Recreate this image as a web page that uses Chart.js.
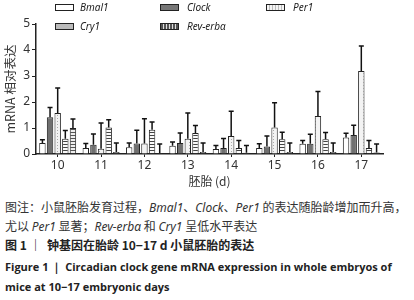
<!DOCTYPE html>
<html><head><meta charset="utf-8">
<script src="https://cdn.jsdelivr.net/npm/chart.js@4/dist/chart.umd.min.js"></script>
<style>
html,body{margin:0;padding:0;background:#fff;}
#wrap{position:relative;width:414px;height:300px;overflow:hidden;font-family:"Noto Sans","Noto Sans CJK SC",sans-serif;}
#c{position:absolute;left:0;top:0;}
.lg{position:absolute;font-style:italic;font-size:10px;color:#222;line-height:12px;white-space:nowrap;}
.sw{position:absolute;width:17px;height:5px;border:1px solid #222;}
.cap{position:absolute;left:5px;white-space:nowrap;color:#333;font-family:"Noto Sans CJK SC",sans-serif;font-size:12px;line-height:14px;}
.cap i{font-family:"Noto Sans","Noto Sans CJK SC",sans-serif;}
.en{font-family:"Open Sans","Noto Sans",sans-serif;font-weight:bold;font-size:11px;color:#222;}
</style></head><body>
<div id="wrap">
<canvas id="c" width="414" height="195"></canvas>
<div class="sw" style="left:55px;top:4px;background:#fff;"></div><div class="lg" style="left:80px;top:1px;">Bmal1</div>
<div class="sw" style="left:160px;top:4px;background:#777;"></div><div class="lg" style="left:187px;top:1px;">Clock</div>
<div class="sw" style="left:266px;top:4px;background:repeating-linear-gradient(90deg,#f4f4f4 0 2px,#bbb 2px 3px);"></div><div class="lg" style="left:293px;top:1px;">Per1</div>
<div class="sw" style="left:55px;top:23px;background:#bbb;"></div><div class="lg" style="left:80px;top:20px;">Cry1</div>
<div class="sw" style="left:160px;top:23px;background:repeating-linear-gradient(90deg,#555 0 2px,#ddd 2px 3px);"></div><div class="lg" style="left:187px;top:20px;">Rev-erbα</div>
<div class="cap" style="top:200px;">图注：小鼠胚胎发育过程，<i>Bmal1</i>、<i>Clock</i>、<i>Per1</i> 的表达随胎龄增加而升高，</div>
<div class="cap" style="top:219px;">尤以 <i>Per1</i> 显著；<i>Rev-erbα</i> 和 <i>Cry1</i> 呈低水平表达</div>
<div class="cap" style="top:238px;font-weight:bold;color:#222;">图 1 ｜&nbsp; 钟基因在胎龄 10−17 d 小鼠胚胎的表达</div>
<div class="cap en" style="top:260px;">Figure 1 ｜ Circadian clock gene mRNA expression in whole embryos of</div>
<div class="cap en" style="top:280px;">mice at 10−17 embryonic days</div>
</div>
<script>
const categories = ['10','11','12','13','14','15','16','17'];
const seriesNames = ['Bmal1','Clock','Per1','Cry1','Rev-erbα'];
const bmal1    = [0.42,0.23,0.26,0.32,0.19,0.23,0.39,0.63];
const bmal1Err = [0.13,0.17,0.16,0.14,0.14,0.16,0.13,0.17];
const clock    = [1.41,0.36,0.40,0.42,0.23,0.29,0.39,0.73];
const clockErr = [0.38,0.41,0.51,0.39,0.37,0.40,0.37,0.38];
const per1     = [1.58,0.20,0.40,0.59,0.69,1.02,1.46,3.19];
const per1Err  = [0.96,0.99,0.96,0.99,0.95,0.95,0.94,0.96];
const cry1     = [0.59,1.02,0.93,0.81,0.23,0.57,0.57,0.23];
const cry1Err  = [0.31,0.30,0.30,0.29,0.29,0.27,0.26,0.29];
const rev      = [1.00,0.08,0.04,0.08,0.05,0.08,0.08,0.06];
const revErr   = [0.35,0.34,0.34,0.34,0.28,0.34,0.34,0.32];
const yTicks = [0,1,2,3,4,5];

function makePattern(w,h,bg,draw){
  const c=document.createElement('canvas');c.width=w;c.height=h;
  const x=c.getContext('2d');x.fillStyle=bg;x.fillRect(0,0,w,h);draw(x);
  return document.getElementById('c').getContext('2d').createPattern(c,'repeat');
}
const per1Fill = makePattern(6,3,'#f3f3f3',x=>{x.fillStyle='#aaa';x.fillRect(3,1,1,1);});
const stripeFill = makePattern(4,3,'#fafafa',x=>{x.fillStyle='#444';x.fillRect(0,0,4,1);});
const revFill = makePattern(4,3,'#eee',x=>{x.fillStyle='#555';x.fillRect(0,0,4,1);});

const errorBars = {
  id:'errorBars',
  afterDatasetsDraw(chart){
    const ctx=chart.ctx, y=chart.scales.y;
    chart.data.datasets.forEach((ds,i)=>{
      chart.getDatasetMeta(i).data.forEach((bar,j)=>{
        const top=y.getPixelForValue(ds.data[j]+ds.errors[j]);
        ctx.save();ctx.strokeStyle='#111';ctx.lineWidth=1.5;
        ctx.beginPath();ctx.moveTo(bar.x,bar.y);ctx.lineTo(bar.x,top);
        ctx.moveTo(bar.x-2.5,top);ctx.lineTo(bar.x+2.5,top);ctx.stroke();ctx.restore();
      });
    });
  }
};

const common={borderColor:'#222',borderWidth:1,categoryPercentage:0.88,barPercentage:0.84};
new Chart(document.getElementById('c'),{
  type:'bar',
  data:{labels:categories,datasets:[
    Object.assign({label:seriesNames[0],data:bmal1,errors:bmal1Err,backgroundColor:'#fff'},common),
    Object.assign({label:seriesNames[1],data:clock,errors:clockErr,backgroundColor:'#707070'},common),
    Object.assign({label:seriesNames[2],data:per1,errors:per1Err,backgroundColor:per1Fill},common),
    Object.assign({label:seriesNames[3],data:cry1,errors:cry1Err,backgroundColor:stripeFill},common),
    Object.assign({label:seriesNames[4],data:rev,errors:revErr,backgroundColor:revFill},common)
  ]},
  options:{
    responsive:false,animation:false,devicePixelRatio:1,
    layout:{padding:{top:24,right:31,left:0,bottom:0}},
    plugins:{legend:{display:false},tooltip:{enabled:false}},
    scales:{
      x:{
        grid:{display:true,drawOnChartArea:false,drawTicks:true,tickLength:3,offset:false,color:'#222'},
        border:{display:true,color:'#222',width:1.5},
        ticks:{color:'#333',font:{family:'Noto Sans',size:12},padding:1,maxRotation:0},
        title:{display:true,text:'胚胎 (d)',color:'#333',font:{family:'Noto Sans CJK SC',size:12},padding:{top:0,bottom:6}},
        afterFit(s){s.height=41;}
      },
      y:{
        min:0,max:5,
        afterBuildTicks(s){s.ticks=yTicks.map(v=>({value:v}));},
        grid:{display:true,drawOnChartArea:false,drawTicks:true,tickLength:4,color:'#222'},
        border:{display:true,color:'#222',width:1.5},
        ticks:{color:'#333',font:{family:'Noto Sans',size:12},padding:2},
        title:{display:true,text:'mRNA 相对表达',color:'#333',font:{family:'Noto Sans CJK SC',size:12.5},padding:{top:3,bottom:0}},
        afterFit(s){s.width=36;}
      }
    }
  },
  plugins:[errorBars]
});
</script>
</body></html>
